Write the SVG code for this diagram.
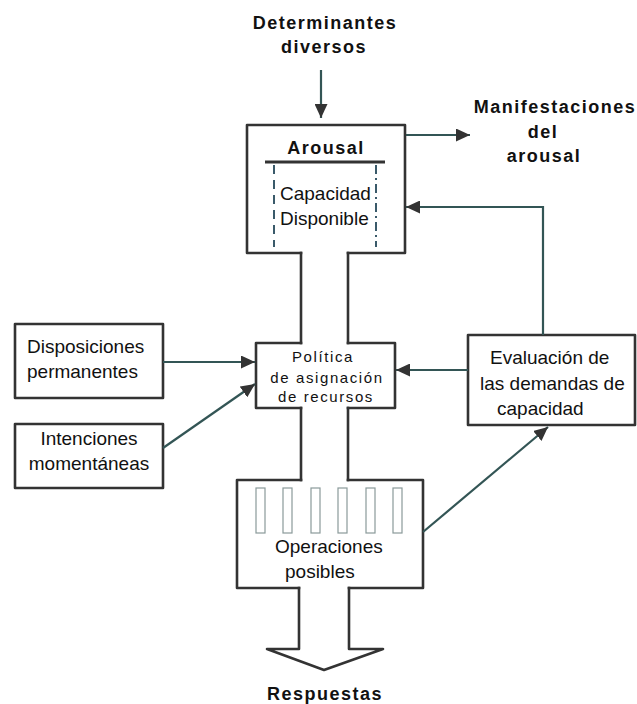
<svg xmlns="http://www.w3.org/2000/svg" width="637" height="704" viewBox="0 0 637 704">
<style>
.t{font-family:"Liberation Sans",Arial,sans-serif;font-size:19px;fill:#111}
.b{font-family:"Liberation Sans",Arial,sans-serif;font-size:18px;font-weight:bold;letter-spacing:1.5px;fill:#111}
.p{font-family:"Liberation Sans",Arial,sans-serif;font-size:15px;letter-spacing:1.6px;fill:#111}
.box{fill:#fff;stroke:#333;stroke-width:2.6;stroke-linejoin:round}
.ol{fill:none;stroke:#333;stroke-width:2.6;stroke-linejoin:round;stroke-linecap:square}
.c{fill:none;stroke:#335555;stroke-width:2.2}
.slot{fill:#fff;stroke:#8a9a9a;stroke-width:1.2}
</style>
<defs>
<marker id="ah" markerUnits="userSpaceOnUse" markerWidth="15" markerHeight="13" refX="14" refY="6.5" orient="auto">
<path d="M0,0 L14,6.5 L0,13 z" fill="#333"/>
</marker>
</defs>
<rect width="637" height="704" fill="#fff"/>
<g id="titulo-determinantes">
<text class="b" x="325" y="29" text-anchor="middle">Determinantes</text>
<text class="b" x="324" y="53" text-anchor="middle">diversos</text>
</g>
<g id="manifestaciones">
<text class="b" x="555" y="113" text-anchor="middle">Manifestaciones</text>
<text class="b" x="543" y="138" text-anchor="middle">del</text>
<text class="b" x="544" y="162" text-anchor="middle">arousal</text>
</g>
<g id="arousal">
<path class="ol" d="M301,253 L247,253 L247,125 L405,125 L405,253 L348,253"/>
<text class="b" x="326" y="154" text-anchor="middle">Arousal</text>
<line x1="265" y1="162" x2="385" y2="162" stroke="#333" stroke-width="3"/>
<line x1="274" y1="165" x2="274" y2="247" stroke="#3a5a6a" stroke-width="2" stroke-dasharray="9,6"/>
<line x1="376" y1="165" x2="376" y2="247" stroke="#3a5a6a" stroke-width="2" stroke-dasharray="9,4,2,4"/>
<text class="t" x="280" y="200">Capacidad</text>
<text class="t" x="280" y="225">Disponible</text>
</g>
<g id="cuello">
<line class="ol" x1="301" y1="253" x2="301" y2="343"/>
<line class="ol" x1="348" y1="253" x2="348" y2="343"/>
<line class="ol" x1="301" y1="408" x2="301" y2="480"/>
<line class="ol" x1="348" y1="408" x2="348" y2="480"/>
</g>
<g id="politica">
<path class="ol" d="M301,343 L256,343 L256,408 L301,408 M348,343 L395,343 L395,408 L348,408"/>
<text class="p" x="323" y="362" text-anchor="middle">Política</text>
<text class="p" x="327" y="383" text-anchor="middle">de asignación</text>
<text class="p" x="326" y="402" text-anchor="middle">de recursos</text>
</g>
<g id="operaciones">
<path class="ol" d="M301,480 L237,480 L237,588 L299,588 M348,480 L423,480 L423,588 L349,588"/>
<rect class="slot" x="256" y="488" width="9" height="45"/>
<rect class="slot" x="283" y="488" width="9" height="45"/>
<rect class="slot" x="311" y="488" width="9" height="45"/>
<rect class="slot" x="338" y="488" width="9" height="45"/>
<rect class="slot" x="366" y="488" width="9" height="45"/>
<rect class="slot" x="393" y="488" width="9" height="45"/>
<text class="t" x="275" y="553">Operaciones</text>
<text class="t" x="285" y="578">posibles</text>
</g>
<g id="respuestas">
<path class="ol" d="M299,588 L299,649 L267,649 L324,670 L383,649 L349,649 L349,588"/>
<text class="b" x="325" y="700" text-anchor="middle">Respuestas</text>
</g>
<g id="disposiciones">
<rect class="box" x="15" y="324" width="148" height="74"/>
<text class="t" x="27" y="353">Disposiciones</text>
<text class="t" x="27" y="378">permanentes</text>
</g>
<g id="intenciones">
<rect class="box" x="15" y="424" width="148" height="64"/>
<text class="t" x="89" y="445" text-anchor="middle">Intenciones</text>
<text class="t" x="89" y="470" text-anchor="middle">momentáneas</text>
</g>
<g id="evaluacion">
<rect class="box" x="468" y="335" width="167" height="90"/>
<text class="t" x="490" y="364">Evaluación de</text>
<text class="t" x="480" y="390">las demandas de</text>
<text class="t" x="497" y="415">capacidad</text>
</g>
<g id="conectores">
<line class="c" x1="321" y1="70" x2="321" y2="118" marker-end="url(#ah)"/>
<line class="c" x1="406" y1="135" x2="470" y2="135" marker-end="url(#ah)"/>
<polyline class="c" points="543,335 543,207 406,207" marker-end="url(#ah)"/>
<line class="c" x1="468" y1="370" x2="396" y2="370" marker-end="url(#ah)"/>
<line class="c" x1="163" y1="362" x2="255" y2="362" marker-end="url(#ah)"/>
<line class="c" x1="163" y1="448" x2="255" y2="384" marker-end="url(#ah)"/>
<line class="c" x1="423" y1="532" x2="548" y2="427" marker-end="url(#ah)"/>
</g>
</svg>
